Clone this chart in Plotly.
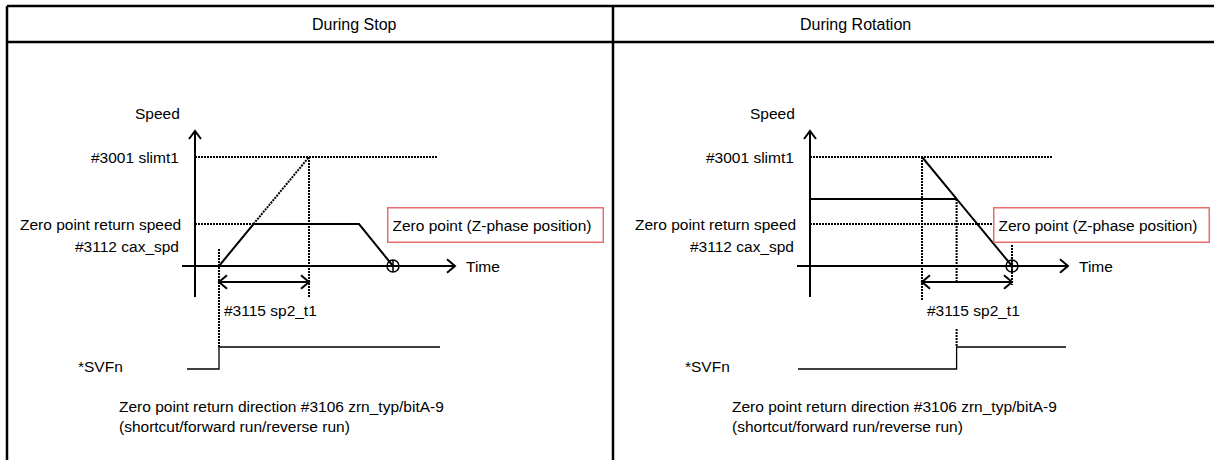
import plotly.graph_objects as go

# speed levels (scaled so that #3001 slimt1 = 100)
speed_slimt1 = 100
speed_rotation = 61.5
speed_cax = 38.5

panel_titles = ['During Stop', 'During Rotation']
speed_labels = ['#3001 slimt1', 'Zero point return speed', '#3112 cax_spd']
span_label = '#3115 sp2_t1'
zero_label = 'Zero point (Z-phase position)'
signal_label = '*SVFn'
direction_label = 'Zero point return direction #3106 zrn_typ/bitA-9<br>(shortcut/forward run/reverse run)'

# During Stop: speed profile
stop_time = [24, 58.5, 164, 198]
stop_speed = [0, 38.5, 38.5, 0]
# acceleration continued up to slimt1 (dotted)
stop_accel_time = [58.5, 114]
stop_accel_speed = [38.5, 100]
stop_zero_time = 198
stop_span = [24, 114]
stop_svf_time = [-8, 24, 24, 245]
stop_svf_state = [0, 0, 1, 1]

# During Rotation: speed profile
rot_time = [0, 146.6, 202]
rot_speed = [61.5, 61.5, 0]
rot_decel_time = [112, 146.6]
rot_decel_speed = [100, 61.5]
rot_zero_time = 202
rot_span = [112, 202]
rot_svf_time = [-12, 146.6, 146.6, 256]
rot_svf_state = [0, 0, 1, 1]

W, H = 1214, 460
PX = 1.09            # pixels per speed unit
Y0 = 266             # pixel row of the time axis
FONT = 'Liberation Sans, Arial, sans-serif'
FS = 15.5
DOT = '2px,1px'

# SVFn signal rows (in speed units)
svf_low = -(369 - Y0) / PX
svf_high = -(347 - Y0) / PX


def v_of(ypx):
    return -(ypx - Y0) / PX


def line(fig, xa, t, v, width=2, dash='solid'):
    fig.add_trace(go.Scatter(
        x=t, y=v, xaxis=xa, yaxis='y', mode='lines',
        line=dict(color='black', width=width, dash=dash),
        hoverinfo='skip', showlegend=False))


def chevron(fig, xa, t, v, direction, size=8):
    # open arrowhead drawn as two short strokes
    dv = size / PX
    if direction == 'right':
        line(fig, xa, [t - size, t, t - size], [v + dv * 0.85, v, v - dv * 0.85])
    elif direction == 'left':
        line(fig, xa, [t + size, t, t + size], [v + dv * 0.85, v, v - dv * 0.85])
    else:
        line(fig, xa, [t - size * 0.75, t, t + size * 0.75], [v - dv, v, v - dv])


def text(fig, xa, t, v, s, anchor='left', size=FS, **kw):
    fig.add_annotation(x=t, y=v, xref=xa, yref='y', text=s, showarrow=False,
                       xanchor=anchor, yanchor='middle',
                       font=dict(family=FONT, size=size, color='black'), **kw)


def axes(fig, xa, x_end):
    # speed axis
    line(fig, xa, [0, 0], [v_of(297), v_of(131)])
    chevron(fig, xa, 0, v_of(131), 'up')
    # time axis
    line(fig, xa, [-13, x_end], [0, 0])
    chevron(fig, xa, x_end, 0, 'right')
    text(fig, xa, x_end + 9, 0, 'Time')
    text(fig, xa, -38, v_of(113), 'Speed', anchor='center')
    text(fig, xa, -14, speed_slimt1, speed_labels[0], anchor='right')
    text(fig, xa, -12, speed_cax, speed_labels[1], anchor='right')
    text(fig, xa, -14, v_of(246), speed_labels[2], anchor='right')
    line(fig, xa, [0, 243], [speed_slimt1, speed_slimt1], dash=DOT)


def span(fig, xa, t):
    v = v_of(282)
    line(fig, xa, t, [v, v])
    chevron(fig, xa, t[0], v, 'left')
    chevron(fig, xa, t[1], v, 'right')
    text(fig, xa, t[0] + 3, v_of(310), span_label)


def zero_point(fig, xa, t, box_t):
    fig.add_trace(go.Scatter(
        x=[t], y=[0], xaxis=xa, yaxis='y', mode='markers',
        marker=dict(symbol='circle-cross-open', size=12,
                    color='black', line=dict(width=1.5)),
        hoverinfo='skip', showlegend=False))
    text(fig, xa, box_t, v_of(225), zero_label, width=206, height=25,
         align='left', bordercolor='rgb(232,110,110)', borderwidth=1.5,
         borderpad=4, bgcolor='white')


def signal(fig, xa, t, state, label_t, text_t):
    v = [svf_low + s * (svf_high - svf_low) for s in state]
    line(fig, xa, t, v, width=1.3)
    text(fig, xa, label_t, v_of(366), signal_label)
    text(fig, xa, text_t, v_of(416), direction_label, align='left')


fig = go.Figure()

# ---- During Stop ----
xa = 'x'
line(fig, xa, [0, stop_accel_time[0]], [speed_cax, speed_cax], dash=DOT)
line(fig, xa, stop_accel_time, stop_accel_speed, dash=DOT)
line(fig, xa, [stop_span[0]] * 2, [v_of(249), svf_high], dash=DOT)
line(fig, xa, [stop_span[1]] * 2, [speed_slimt1, v_of(297)], dash=DOT)
line(fig, xa, stop_time, stop_speed)
axes(fig, xa, 260)
span(fig, xa, stop_span)
zero_point(fig, xa, stop_zero_time, 192)
signal(fig, xa, stop_svf_time, stop_svf_state, -119, -78)

# ---- During Rotation ----
xa = 'x2'
line(fig, xa, [0, 182], [speed_cax, speed_cax], dash=DOT)
line(fig, xa, [rot_span[0]] * 2, [speed_slimt1, v_of(301)], dash=DOT)
line(fig, xa, [rot_decel_time[1]] * 2, [speed_rotation, v_of(282)], dash=DOT)
line(fig, xa, [rot_zero_time] * 2, [v_of(245), v_of(285)], dash=DOT)
line(fig, xa, [rot_svf_time[1]] * 2, [v_of(329), svf_high], dash=DOT)
line(fig, xa, rot_time, rot_speed)
line(fig, xa, rot_decel_time, rot_decel_speed)
axes(fig, xa, 258)
span(fig, xa, rot_span)
zero_point(fig, xa, rot_zero_time, 183)
signal(fig, xa, rot_svf_time, rot_svf_state, -127, -80)

# ---- table frame and header ----
frame = dict(color='black', width=2.5)
for y in [6, 42]:
    fig.add_shape(type='line', xref='paper', yref='paper',
                  x0=7 / W, x1=1, y0=1 - y / H, y1=1 - y / H, line=frame)
for x in [7, 613]:
    fig.add_shape(type='line', xref='paper', yref='paper',
                  x0=x / W, x1=x / W, y0=0, y1=1 - 6 / H, line=frame)
for i, title in enumerate(panel_titles):
    fig.add_annotation(x=(310 + 603 * i) / W, y=1 - 24 / H, xref='paper', yref='paper',
                       text=title, showarrow=False, yanchor='middle',
                       font=dict(family=FONT, size=16, color='black'))

hidden = dict(visible=False, fixedrange=True)
fig.update_layout(
    width=W, height=H,
    margin=dict(l=0, r=0, t=0, b=0),
    paper_bgcolor='white', plot_bgcolor='white',
    xaxis=dict(domain=[0, 0.5], range=[-195, 412], **hidden),
    xaxis2=dict(domain=[0.5, 1], range=[-203, 404], anchor='y', **hidden),
    yaxis=dict(domain=[0, 1], range=[-(H - Y0) / PX, Y0 / PX], **hidden),
    showlegend=False,
)

fig.write_html('out.html', config={'displayModeBar': False},
               post_script="document.body.style.margin='0';")
